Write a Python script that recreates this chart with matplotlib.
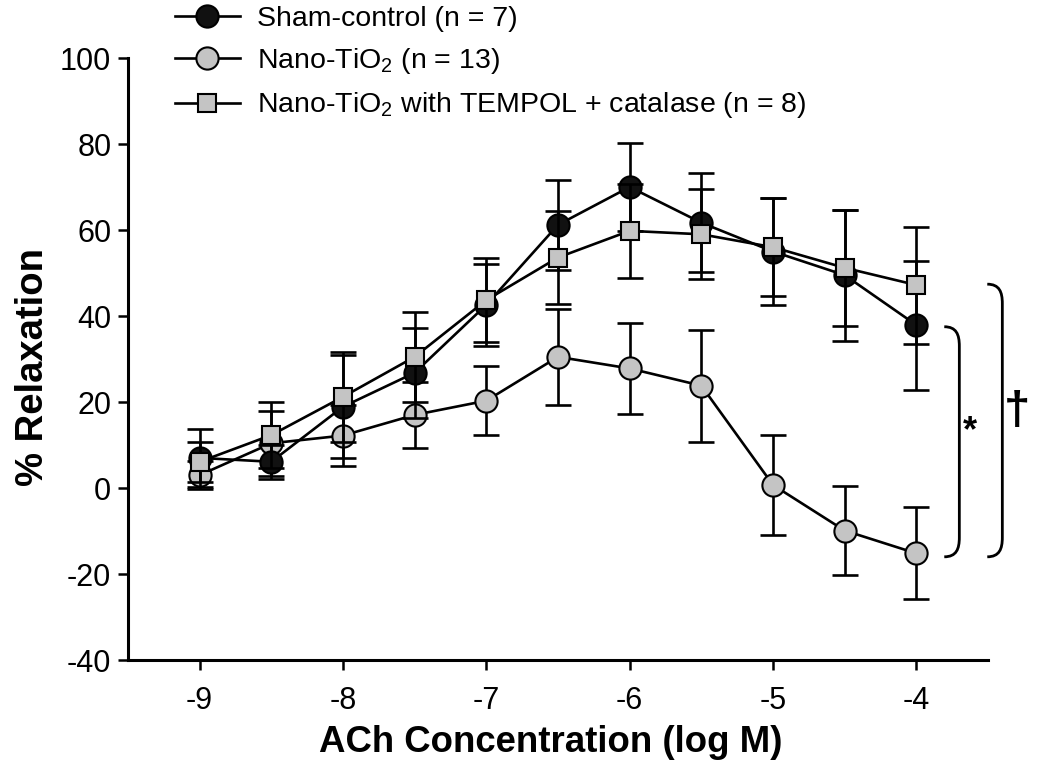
import matplotlib
matplotlib.use("Agg")
import matplotlib.pyplot as plt
from matplotlib.path import Path
from matplotlib.patches import PathPatch
from matplotlib.lines import Line2D

plt.rcParams['font.family'] = ['Liberation Sans', 'DejaVu Sans']
plt.rcParams['mathtext.fontset'] = 'custom'
plt.rcParams['mathtext.rm'] = 'Liberation Sans'
plt.rcParams['mathtext.it'] = 'Liberation Sans'

# ---- data ----
log_conc = [-9, -8.5, -8, -7.5, -7, -6.5, -6, -5.5, -5, -4.5, -4]

sham_mean = [7.0, 6.1, 18.9, 26.8, 42.6, 61.2, 70.0, 61.7, 55.0, 49.5, 37.9]
sham_err = [6.7, 4.0, 12.0, 10.5, 9.5, 10.4, 10.2, 11.5, 12.5, 15.2, 15.0]

nano_mean = [3.0, 10.4, 12.2, 17.0, 20.3, 30.5, 27.8, 23.8, 0.7, -9.9, -15.2]
nano_err = [3.2, 7.5, 7.0, 7.6, 8.0, 11.2, 10.6, 13.0, 11.6, 10.4, 10.7]

tempol_mean = [6.1, 12.3, 21.2, 30.5, 43.7, 53.6, 59.8, 59.0, 56.0, 51.2, 47.2]
tempol_err = [4.7, 7.7, 10.5, 10.4, 9.7, 10.8, 10.9, 10.5, 11.4, 13.5, 13.6]

labels = ['Sham-control (n = 7)', 'Nano-TiO$_2$ (n = 13)',
          'Nano-TiO$_2$ with TEMPOL + catalase (n = 8)']

x_ticks = [-9, -8, -7, -6, -5, -4]
y_ticks = [-40, -20, 0, 20, 40, 60, 80, 100]

# ---- figure ----
W, H = 1050, 779
fig = plt.figure(figsize=(W / 100, H / 100), dpi=100)
ax = fig.add_axes([128 / W, 1 - 660 / H, (988 - 128) / W, (660 - 58) / H])

black = '#111111'
gray = '#c4c4c4'
lw = 1.9
mew = 1.5

def series(mean, err, marker, face, ms, z):
    ax.errorbar(log_conc, mean, yerr=err, fmt='none', ecolor='black',
                elinewidth=lw, capsize=9.5, capthick=lw, zorder=z)
    ax.plot(log_conc, mean, color='black', lw=lw, marker=marker, ms=ms,
            mfc=face, mec='black', mew=mew, zorder=z + 0.5)

series(nano_mean, nano_err, 'o', gray, 16, 2)
series(sham_mean, sham_err, 'o', black, 16, 3)
series(tempol_mean, tempol_err, 's', gray, 13.5, 4)

ax.set_xlim(-9.5, -3.5)
ax.set_ylim(-40, 100)
ax.set_xticks(x_ticks)
ax.set_xticklabels([str(t) for t in x_ticks])
ax.set_yticks(y_ticks)
ax.set_yticklabels([str(t) for t in y_ticks])
for s in ['top', 'right']:
    ax.spines[s].set_visible(False)
for s in ['left', 'bottom']:
    ax.spines[s].set_linewidth(2.2)
ax.tick_params(direction='out', length=7, width=1.8, labelsize=22, pad=5)
ax.tick_params(axis='x', pad=12)

fig.text(33 / W, 1 - 367 / H, '% Relaxation', rotation=90, fontsize=27.5,
         fontweight='bold', ha='center', va='center')
fig.text(551 / W, 1 - 742 / H, 'ACh Concentration (log M)', fontsize=26.4,
         fontweight='bold', ha='center', va='center')

# ---- legend ----
handles = [
    Line2D([], [], color='black', lw=lw, marker='o', ms=16, mfc=black, mec='black', mew=mew),
    Line2D([], [], color='black', lw=lw, marker='o', ms=16, mfc=gray, mec='black', mew=mew),
    Line2D([], [], color='black', lw=lw, marker='s', ms=13.5, mfc=gray, mec='black', mew=mew),
]
leg = fig.legend(handles, labels, loc='upper left',
                 bbox_to_anchor=(175 / W, 1 - 6 / H), frameon=False,
                 fontsize=20.5, handlelength=2.28, handletextpad=0.6,
                 labelspacing=0.5, borderpad=0, borderaxespad=0)

# ---- significance brackets ----
def bracket(x0, x1, ytop, ybot, rad):
    dx = x1 - x0
    verts = [(x0, ytop), (x0 + 0.8 * dx, ytop), (x1, ytop - 0.4 * rad), (x1, ytop - rad),
             (x1, ybot + rad),
             (x1, ybot + 0.4 * rad), (x0 + 0.8 * dx, ybot), (x0, ybot)]
    codes = [Path.MOVETO, Path.CURVE4, Path.CURVE4, Path.CURVE4,
             Path.LINETO, Path.CURVE4, Path.CURVE4, Path.CURVE4]
    ax.add_patch(PathPatch(Path(verts, codes), fill=False, lw=2.0,
                           edgecolor='black', clip_on=False))

bracket(-3.805, -3.70, 37.5, -16.0, 4.5)
bracket(-3.505, -3.40, 47.4, -16.0, 4.5)
ax.text(-3.625, 13.0, '*', fontsize=26, fontweight='bold', ha='center',
        va='center', clip_on=False)
ax.text(-3.30, 17.7, '†', fontsize=34, fontweight='bold', ha='center',
        va='center', clip_on=False)

fig.savefig('out.png', dpi=100)
